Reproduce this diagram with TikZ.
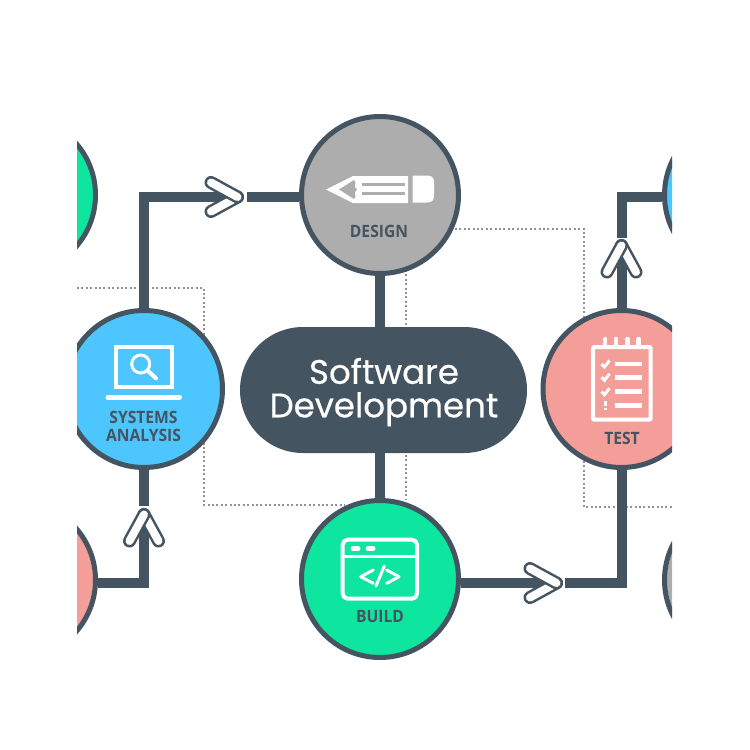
\documentclass[tikz,border=0pt]{standalone}
\usepackage{fontspec}
\usetikzlibrary{positioning,shapes.misc}
\newfontfamily\capfont[FakeStretch=0.92]{Open Sans}
\newfontfamily\pillfont[FakeBold=0.5]{Poppins}
\definecolor{slatedark}{HTML}{455461}
\definecolor{greenfill}{HTML}{0EE6A0}
\definecolor{bluefill}{HTML}{4DC5FF}
\definecolor{pinkfill}{HTML}{F49E9A}
\definecolor{grayfill}{HTML}{ADADAD}
\tikzset{
  phase/.style={circle,draw=slatedark,line width=5pt,minimum size=157pt,inner sep=0pt},
  flowline/.style={line width=10pt,slatedark},
  framedots/.style={line width=2pt,color=gray!85,dash pattern=on 2pt off 2.4pt},
  caption/.style={font=\capfont\bfseries\fontsize{17}{18}\selectfont,text=slatedark,align=center,inner sep=0pt},
  iconline/.style={draw=white,line width=4pt,line cap=round,line join=round},
  chevron/.pic={
    \draw[line width=13pt,slatedark,line cap=round] (-26.5,14.5) -- (0,0);
    \draw[line width=8pt,white,line cap=round] (-26.5,14.5) -- (0,0);
    \draw[line width=13pt,slatedark,line cap=round] (-26.5,-14.5) -- (0,0);
    \draw[line width=8pt,white,line cap=round] (-26.5,-14.5) -- (0,0);
  }
}
\begin{document}
\begin{tikzpicture}[x=1pt,y=-1pt]
  \useasboundingbox (0,0) rectangle (750,750);
  \clip (77,0) rectangle (672,750);
  % frames behind everything
  \draw[framedots] (77,288) -- (204,288) -- (204,505) -- (345,505);
  \draw[framedots] (406,270) -- (406,500);
  \draw[framedots] (455,229) -- (584,229) -- (584,507) -- (672,507);
  % phases
  \node[phase,fill=grayfill] (design) at (380,195) {};
  \node[phase,fill=bluefill] (analysis) at (144,389) {};
  \node[phase,fill=pinkfill] (test) at (621.5,389) {};
  \node[phase,fill=greenfill] (build) at (380,579) {};
  \node[phase,fill=greenfill] (greenedge) at (17,195) {};
  \node[phase,fill=pinkfill] (pinkedge) at (17,580) {};
  \node[phase,fill=bluefill] (blueedge) at (743,195) {};
  \node[phase,fill=grayfill] (grayedge) at (743,580) {};
  \node[rounded rectangle,fill=slatedark,minimum width=287pt,minimum height=126pt,inner sep=0pt] (pill) at (383.5,390) {};
  \node[text=white,align=center,inner sep=0pt,font=\pillfont\fontsize{34}{33.5}\selectfont] (pilltext) at (384,392) {Software\\Development};
  % connectors
  \coordinate (chevA) at (237.5,197);
  \coordinate (chevB) at (144,514.5);
  \coordinate (chevC) at (621.5,245.5);
  \coordinate (chevD) at (556.5,583);
  \coordinate (resumeA) at (247,197);
  \coordinate (resumeB) at (144,506);
  \coordinate (resumeC) at (621.5,238);
  \coordinate (resumeD) at (565,583);
  \draw[flowline] (design.south) -- (design.south |- pill.north);
  \draw[flowline] (build.north) -- (build.north |- pill.south);
  \draw[flowline] (analysis.north) |- (chevA);
  \draw[flowline] (resumeA) -- (design.west |- resumeA);
  \draw[flowline] (pinkedge.east |- chevD) -| (chevB);
  \draw[flowline] (resumeB) -- (analysis.south);
  \draw[flowline] (build.east |- chevD) -- (chevD);
  \draw[flowline] (resumeD) -| (test.south);
  \draw[flowline] (test.north) -- (chevC);
  \draw[flowline] (resumeC) |- (blueedge.west |- chevA);
  \pic at (chevA) {chevron};
  \pic[rotate=90] at (chevB) {chevron};
  \pic[rotate=90] at (chevC) {chevron};
  \pic at (chevD) {chevron};
  % pencil
  \fill[white] (326,189.5) -- (353,176) -- (408,176) -- (408,203) -- (353,203) -- cycle;
  \fill[white] (412.5,175.5) -- (427,175.5) .. controls (432,175.5) and (434,178) .. (434,182) -- (434,196) .. controls (434,200) and (432,202.5) .. (427,202.5) -- (412.5,202.5) -- cycle;
  \fill[grayfill] (339,189.5) -- (354,180) .. controls (358,183) and (352,186) .. (357,189.5) .. controls (352,193) and (358,196) .. (354,199) -- cycle;
  \draw[grayfill,line width=2.5pt] (362,184.5) -- (405,184.5) (362,193.5) -- (405,193.5);
  % laptop
  \draw[iconline,line cap=butt,line join=miter] (115.5,346.5) rectangle (172,387);
  \draw[iconline,line width=5pt] (108,397.3) -- (179.5,397.3);
  \draw[iconline,line width=3pt] (140.7,364) circle (9);
  \draw[iconline] (148,371) -- (156,378.3);
  % notepad
  \draw[iconline,rounded corners=1pt] (593,347) rectangle (650.7,419.7);
  \foreach \ringx in {605,616,627.3,638.7}
    \draw[iconline,line width=4.5pt] (\ringx,339) -- (\ringx,345);
  \foreach \rowy in {364,377.3,391.7,405.3}
    \draw[iconline,line width=4.5pt,line cap=butt] (615,\rowy) -- (642.3,\rowy);
  \foreach \rowy in {364,377.3,391.7}
    \draw[iconline,line width=3pt,line cap=butt,line join=miter] (601.5,\rowy) -- (604.5,\rowy+3) -- (609.5,\rowy-3.5);
  \draw[iconline,line width=3pt,line cap=butt] (605,401) -- (605,406) (605,407.5) -- (605,410);
  % browser window
  \draw[iconline,rounded corners=5pt] (342.7,539.7) rectangle (417,598.7);
  \draw[iconline,line width=3.5pt,line cap=butt] (342.7,556.7) -- (417,556.7);
  \draw[iconline,line width=5pt] (353,548.7) -- (358,548.7) (368,548.7) -- (373,548.7);
  \draw[iconline,line width=3pt] (373.3,570) -- (360.7,576.7) -- (373.3,583.3);
  \draw[iconline,line width=3pt] (384.3,566) -- (376,586);
  \draw[iconline,line width=3pt] (386.7,570) -- (399,576.7) -- (386.7,583.3);
  % captions
  \node[caption] (designcap) at (379,231) {DESIGN};
  \node[caption] (analysiscap) at (143.5,426) {SYSTEMS\\ANALYSIS};
  \node[caption] (testcap) at (622,438) {TEST};
  \node[caption] (buildcap) at (380,617) {BUILD};
\end{tikzpicture}
\end{document}
